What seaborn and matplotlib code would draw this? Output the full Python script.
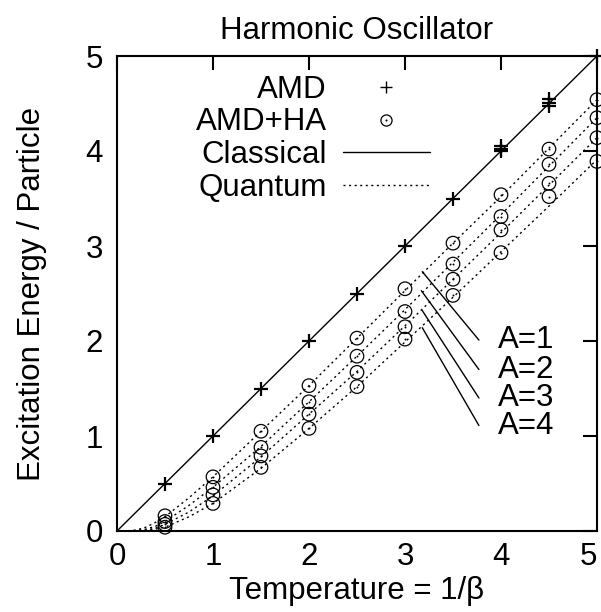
import numpy as np
import pandas as pd
import matplotlib
matplotlib.use("Agg")
import matplotlib.pyplot as plt
import seaborn as sns
from matplotlib.lines import Line2D
from matplotlib.legend_handler import HandlerTuple

# ---------------- data ----------------
temps = [0.5, 1.0, 1.5, 2.0, 2.5, 3.0, 3.5, 4.0, 4.5, 5.0]

amd_T = [0.5, 1.0, 1.5, 2.0, 2.5, 3.0, 3.5, 4.0, 4.0, 4.0, 4.5, 4.5, 4.5, 5.0]
amd_E = [0.5, 1.0, 1.5, 2.0, 2.5, 3.0, 3.5, 4.0, 4.02, 4.05, 4.47, 4.51, 4.55, 5.0]

ha_A1 = [0.16, 0.57, 1.05, 1.53, 2.03, 2.55, 3.03, 3.54, 4.02, 4.54]
ha_A2 = [0.10, 0.46, 0.88, 1.36, 1.84, 2.31, 2.81, 3.31, 3.86, 4.35]
ha_A3 = [0.07, 0.38, 0.79, 1.23, 1.67, 2.15, 2.65, 3.17, 3.66, 4.14]
ha_A4 = [0.04, 0.29, 0.67, 1.08, 1.52, 2.02, 2.48, 2.93, 3.52, 3.89]

classical_T = [0.0, 5.0]
classical_E = [0.0, 5.0]

quantum_T = [0.0, 0.1, 0.2, 0.3, 0.4, 0.5, 0.75, 1.0, 1.5, 2.0, 2.5, 3.0, 3.5, 4.0, 4.5, 5.0]
q_A1 = [0.0, 0.0, 0.01, 0.04, 0.09, 0.15, 0.35, 0.57, 1.05, 1.53, 2.03, 2.53, 3.03, 3.52, 4.03, 4.54]
q_A2 = [0.0, 0.0, 0.005, 0.02, 0.05, 0.10, 0.27, 0.46, 0.89, 1.36, 1.84, 2.33, 2.83, 3.33, 3.84, 4.35]
q_A3 = [0.0, 0.0, 0.0, 0.01, 0.03, 0.07, 0.20, 0.37, 0.78, 1.23, 1.68, 2.16, 2.65, 3.14, 3.64, 4.14]
q_A4 = [0.0, 0.0, 0.0, 0.005, 0.02, 0.04, 0.15, 0.29, 0.66, 1.08, 1.52, 1.99, 2.46, 2.94, 3.42, 3.91]

a_labels = ["A=1", "A=2", "A=3", "A=4"]
pointer_start = [(3.18, 2.73), (3.17, 2.53), (3.18, 2.32), (3.18, 2.14)]
pointer_end = [(3.77, 2.01), (3.77, 1.70), (3.77, 1.40), (3.77, 1.11)]

x_ticks = [0, 1, 2, 3, 4, 5]
y_ticks = [0, 1, 2, 3, 4, 5]

title = "Harmonic Oscillator"
xlabel = "Temperature = 1/\u03b2"
ylabel = "Excitation Energy / Particle"

# ---------------- frames ----------------
ha_df = pd.concat([
    pd.DataFrame({"T": temps, "E": v, "A": i + 1})
    for i, v in enumerate([ha_A1, ha_A2, ha_A3, ha_A4])
], ignore_index=True)
q_df = pd.concat([
    pd.DataFrame({"T": quantum_T, "E": v, "A": i + 1})
    for i, v in enumerate([q_A1, q_A2, q_A3, q_A4])
], ignore_index=True)
amd_df = pd.DataFrame({"T": amd_T, "E": amd_E})
cl_df = pd.DataFrame({"T": classical_T, "E": classical_E})

# ---------------- style ----------------
sns.set_theme(style="white")
plt.rcParams["font.family"] = ["Liberation Sans", "DejaVu Sans"]

FS = 22.5
fig = plt.figure(figsize=(6.01, 6.12), dpi=100)
ax = fig.add_axes([117 / 601, 1 - 531 / 612, (597 - 117) / 601, (531 - 56) / 612])

dotted = (0, (1.5, 2.5))

sns.lineplot(data=cl_df, x="T", y="E", ax=ax, color="black", lw=1.0, legend=False)
for a in range(1, 5):
    sns.lineplot(data=q_df[q_df["A"] == a], x="T", y="E", ax=ax, color="black",
                 lw=1.0, linestyle=dotted, legend=False)

sns.scatterplot(data=amd_df, x="T", y="E", ax=ax, marker="+", s=110,
                color="black", linewidth=1.6, clip_on=False, zorder=5, legend=False)
sns.scatterplot(data=ha_df, x="T", y="E", ax=ax, marker="o", s=95,
                facecolors="none", edgecolor="black", linewidth=0.9,
                clip_on=False, zorder=5, legend=False)
sns.scatterplot(data=ha_df, x="T", y="E", ax=ax, marker="o", s=2,
                color="black", linewidth=0, clip_on=False, zorder=6, legend=False)

for lab, (x0, y0), (x1, y1) in zip(a_labels, pointer_start, pointer_end):
    ax.annotate("", xy=(x0, y0), xytext=(x1, y1),
                arrowprops=dict(arrowstyle="-", color="black", lw=1.0,
                                shrinkA=0, shrinkB=0))
    ax.text(x1 + 0.2, y1, lab, fontsize=FS, ha="left", va="center", color="black")

ax.set_xlim(0, 5)
ax.set_ylim(0, 5)
ax.set_xticks(x_ticks)
ax.set_yticks(y_ticks)
ax.set_xticklabels([str(t) for t in x_ticks])
ax.set_yticklabels([str(t) for t in y_ticks])
ax.tick_params(direction="in", length=10, width=1.5, top=True, right=True,
               labelsize=FS, colors="black")
ax.tick_params(axis="x", pad=8)
ax.tick_params(axis="y", pad=10)
ax.get_xticklabels()[-1].set_horizontalalignment("right")
for sp in ax.spines.values():
    sp.set_color("black")
    sp.set_linewidth(1.5)
ax.set_xlabel(xlabel, fontsize=FS, color="black", labelpad=3)
ax.set_ylabel(ylabel, fontsize=FS, color="black", labelpad=28)
ax.set_title(title, fontsize=FS, color="black", pad=12)

h_amd = Line2D([], [], marker="+", color="black", ls="none", markersize=9, mew=1.0)
h_circ = Line2D([], [], marker="o", color="black", mfc="none", ls="none", markersize=8, mew=0.9)
h_dot = Line2D([], [], marker="o", color="black", ls="none", markersize=1.5, mew=0)
h_cl = Line2D([], [], color="black", lw=1.0)
h_q = Line2D([], [], color="black", lw=1.0, linestyle=dotted)
leg = ax.legend([h_amd, (h_circ, h_dot), h_cl, h_q],
                ["AMD", "AMD+HA", "Classical", "Quantum"],
                handler_map={tuple: HandlerTuple(ndivide=1)},
                markerfirst=False, frameon=False, fontsize=FS,
                loc="upper right", bbox_to_anchor=(430 / 601, 1 - 75 / 612),
                bbox_transform=fig.transFigure, borderpad=0, borderaxespad=0,
                handlelength=2.8, handletextpad=0.5, labelspacing=0.08)
for t in leg.get_texts():
    t.set_color("black")

fig.savefig("out.png", dpi=100)
